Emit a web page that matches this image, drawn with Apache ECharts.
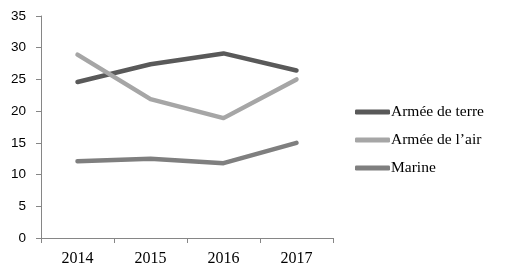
<!DOCTYPE html>
<html><head><meta charset="utf-8">
<script src="https://cdn.jsdelivr.net/npm/echarts@6/dist/echarts.min.js"></script>
<style>html,body{margin:0;padding:0;background:#fff}#c{width:513px;height:274px}</style>
</head><body><div id="c"></div>
<script>
const categories = ['2014', '2015', '2016', '2017'];
const armeeDeTerre = [24.6, 27.4, 29.1, 26.4];
const armeeDeLAir = [28.9, 21.9, 18.9, 25.0];
const marine = [12.1, 12.5, 11.8, 15.0];
const seriesNames = ['Armée de terre', "Armée de l\u2019air", 'Marine'];
const yTicks = [0, 5, 10, 15, 20, 25, 30, 35];

const colors = ['#595959', '#a6a6a6', '#7f7f7f'];
const serif = 'Liberation Serif';
const sans = 'Liberation Sans';
const chart = echarts.init(document.getElementById('c'), null, {renderer: 'canvas'});
const mk = (name, data, i) => ({
  name, type: 'line', data, symbol: 'none', smooth: false,
  lineStyle: {width: 4.5, color: colors[i], cap: 'round', join: 'round'},
  itemStyle: {color: colors[i]}
});
chart.setOption({
  animation: false,
  grid: {left: 41, right: 180, top: 16, bottom: 36},
  xAxis: {
    type: 'category', data: categories, boundaryGap: true,
    axisLine: {lineStyle: {color: '#868686', width: 1}},
    axisTick: {show: true, length: 5, lineStyle: {color: '#868686'}},
    axisLabel: {color: '#000', fontFamily: serif, fontSize: 16, margin: 13}
  },
  yAxis: {
    type: 'value', min: yTicks[0], max: yTicks[yTicks.length - 1], interval: 5,
    axisLine: {show: true, lineStyle: {color: '#868686', width: 1}},
    axisTick: {show: true, length: 5, lineStyle: {color: '#868686'}},
    splitLine: {show: false},
    axisLabel: {color: '#000', fontFamily: sans, fontSize: 13.5, margin: 15}
  },
  legend: {
    orient: 'vertical', left: 355, top: 104, padding: 0,
    itemWidth: 35, itemHeight: 5, itemGap: 12,
    icon: 'roundRect',
    textStyle: {color: '#000', fontFamily: serif, fontSize: 15.5, padding: [0, 0, 0, -4]},
    data: seriesNames
  },
  series: [mk(seriesNames[0], armeeDeTerre, 0), mk(seriesNames[1], armeeDeLAir, 1), mk(seriesNames[2], marine, 2)]
});
</script></body></html>
